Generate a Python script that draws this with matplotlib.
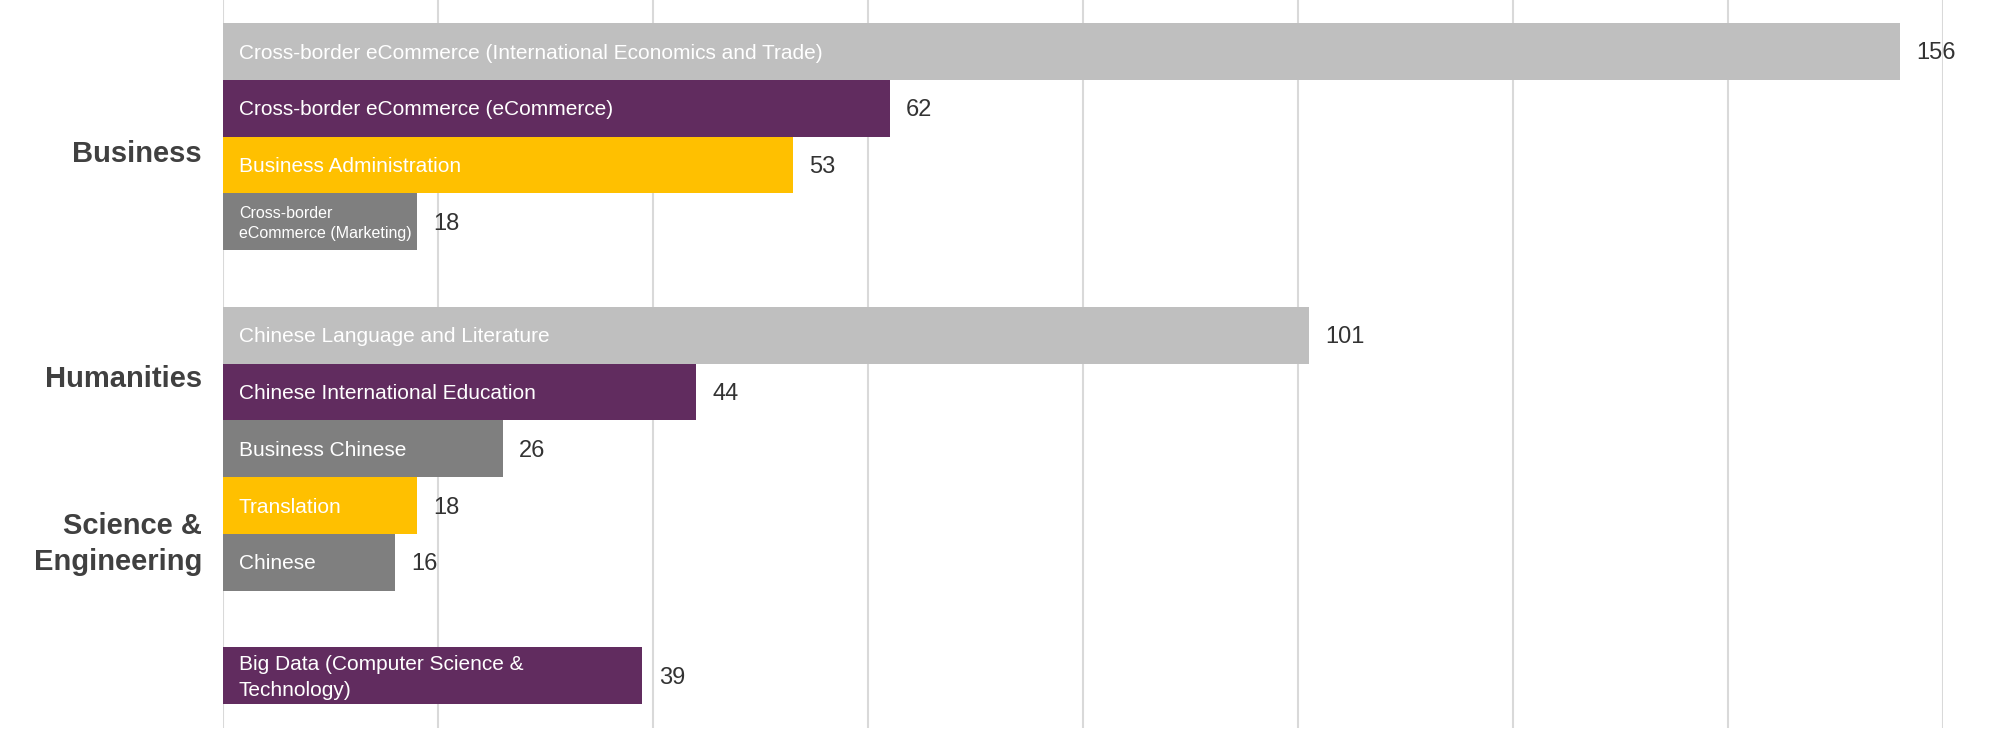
import numpy as np
import matplotlib.pyplot as plt

plt.rcParams['font.family'] = ['Liberation Sans', 'DejaVu Sans']

# bars, top to bottom; None = empty slot between groups
labels = ["Cross-border eCommerce (International Economics and Trade)",
          "Cross-border eCommerce (eCommerce)",
          "Business Administration",
          "Cross-border\neCommerce (Marketing)",
          None,
          "Chinese Language and Literature",
          "Chinese International Education",
          "Business Chinese",
          "Translation",
          "Chinese",
          None,
          "Big Data (Computer Science &\nTechnology)"]
values = [156, 62, 53, 18, None, 101, 44, 26, 18, 16, None, 39]
colors = ["#bfbfbf", "#612c5f", "#ffc000", "#7f7f7f", None,
          "#bfbfbf", "#612c5f", "#7f7f7f", "#ffc000", "#7f7f7f", None,
          "#612c5f"]
label_sizes = [15, 15, 15, 11.5, None, 15, 15, 15, 15, 15, None, 15]

groups = ["Business", "Humanities", "Science &\nEngineering"]
group_pos = [1.80, 5.77, 8.68]

fig = plt.figure(figsize=(20, 7.44), dpi=100)
ax = fig.add_axes([0.1115, 0.0215, 0.86, 0.9785])

for i in range(len(values)):
    if values[i] is None:
        continue
    ax.barh(i, values[i], height=1.0, color=colors[i], zorder=2)
    ax.annotate(labels[i], xy=(0, i), xytext=(11.5, -1.2), textcoords='offset points',
                va='center', ha='left', color='white', fontsize=label_sizes[i],
                linespacing=1.45 if '\n' in labels[i] else 1.2, zorder=3)
    ax.annotate(str(values[i]), xy=(values[i], i), xytext=(12, -1.5),
                textcoords='offset points', va='center', ha='left',
                color='#333333', fontsize=17, zorder=3)

for g, p in zip(groups, group_pos):
    ax.text(-1.95, p, g, ha='right', va='center', fontsize=21, fontweight='bold',
            color='#404040', linespacing=1.35, clip_on=False)

ax.set_xlim(0, 160)
ax.set_ylim(11.92, -0.905)
ax.set_xticks(np.arange(0, 161, 20))
ax.grid(axis='x', color='#d9d9d9', linewidth=1.5, zorder=0)
ax.set_axisbelow(True)
ax.tick_params(left=False, bottom=False, labelleft=False, labelbottom=False)
for s in ax.spines.values():
    s.set_visible(False)

fig.savefig('out.png', dpi=100)
